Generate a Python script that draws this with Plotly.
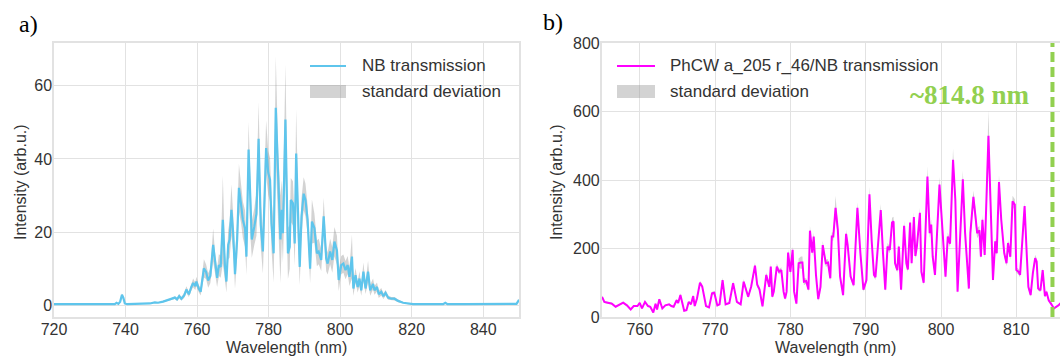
import plotly.graph_objects as go

# ---------------- data: panel a) NB transmission ----------------
nb_wl = [720, 725, 730, 735, 737.0, 737.5, 738.0, 738.5, 739.0, 739.4, 739.8, 740.5, 743, 745,
         746.8, 748.2, 749.1, 750.5, 751.9, 752.8, 753.8, 754.4, 755.0, 755.6, 756.4, 757.0,
         757.7, 758.4, 758.9, 759.5, 759.8, 760.5, 761.0, 761.9, 762.5, 763.1, 763.7, 764.5,
         765.1, 765.6, 766.1, 766.6, 767.2, 767.8, 768.2, 768.7, 769.1, 769.6, 770.1, 770.6,
         771.2, 771.7, 772.3, 772.8, 773.4, 773.8, 774.4, 774.9, 775.3, 776.0, 776.6, 777.2,
         777.8, 778.4, 779.3, 779.9, 780.4, 780.8, 781.4, 782.0, 782.7, 783.3, 783.7, 784.0,
         784.7, 785.4, 785.9, 786.2, 786.8, 787.3, 787.7, 788.3, 788.7, 789.2, 789.8, 790.3,
         790.9, 791.6, 792.1, 792.8, 793.5, 794.0, 794.7, 795.4, 796.1, 796.5, 797.2, 797.8,
         798.4, 799.1, 799.6, 800.3, 800.9, 801.5, 802.1, 802.6, 803.3, 803.7, 804.3, 804.9,
         805.4, 805.9, 806.5, 807.1, 807.8, 808.4, 809.2, 809.6, 810.3, 810.8, 811.5, 812.1,
         812.7, 813.4, 814.3, 815.2, 816.2, 817.6, 819.0, 820.4, 825, 828.8, 829.4, 830.0,
         835, 840, 845, 849.3, 850]
nb_int = [0.3, 0.3, 0.3, 0.3, 0.3, 0.7, 0.4, 1.0, 2.9, 2.0, 0.5, 0.3, 0.3, 0.4,
          0.5, 0.8, 0.7, 1.0, 1.4, 1.6, 2.1, 1.6, 2.5, 1.8, 2.7, 4.3,
          3.0, 5.0, 6.1, 5.2, 6.5, 4.5, 3.7, 10.1, 9.2, 6.8, 8.0, 16.5,
          10.5, 7.5, 11.0, 10.5, 23.4, 10.5, 6.5, 16.5, 18.0, 26.1, 19.7, 8.5,
          18.0, 32.1, 27.5, 23.4, 21.0, 13.3, 42.6, 25.0, 18.0, 21.5, 25.0, 45.5,
          22.0, 14.7, 43.0, 36.2, 34.3, 22.4, 14.2, 54.0, 31.6, 18.0, 26.1, 19.7,
          50.8, 14.2, 16.0, 28.8, 27.9, 16.9, 41.5, 21.5, 10.5, 24.3, 30.5, 28.8,
          23.4, 10.0, 22.9, 21.1, 14.2, 14.7, 12.4, 24.3, 12.8, 11.4, 14.7, 12.4,
          17.4, 15.0, 6.9, 11.0, 11.4, 9.6, 11.0, 7.8, 13.3, 4.6, 8.2, 5.0,
          7.3, 4.1, 9.2, 4.6, 9.2, 4.1, 5.8, 4.1, 5.0, 3.0, 3.7, 2.5,
          3.4, 2.1, 1.8, 1.8, 1.2, 0.7, 0.4, 0.3, 0.3, 0.3, 0.7, 0.3,
          0.3, 0.3, 0.3, 0.4, 1.5]
nb_std = [0.05, 0.05, 0.05, 0.05, 0.05, 0.1, 0.1, 0.2, 0.3, 0.3, 0.1, 0.05, 0.05, 0.05,
          0.1, 0.1, 0.1, 0.2, 0.3, 0.3, 0.4, 0.4, 0.6, 0.5, 0.7, 0.9,
          0.7, 1.0, 1.2, 1.0, 1.3, 1.0, 1.0, 2.5, 2.0, 2.0, 2.0, 4.5,
          3.0, 2.5, 3.0, 3.0, 12.0, 4.0, 3.0, 4.0, 5.0, 7.0, 5.0, 4.0,
          5.0, 6.5, 5.0, 5.0, 5.0, 5.0, 7.5, 6.0, 5.0, 5.0, 6.0, 10.0,
          6.0, 6.0, 7.5, 6.0, 6.0, 7.0, 8.0, 14.0, 10.0, 12.0, 8.0, 8.0,
          15.0, 7.0, 6.0, 6.0, 6.0, 6.0, 12.0, 6.0, 5.0, 5.0, 4.5, 4.5,
          4.0, 4.0, 6.0, 4.0, 3.5, 3.5, 3.0, 5.0, 3.5, 3.0, 3.5, 3.5,
          4.0, 4.0, 3.0, 2.5, 2.5, 2.5, 2.5, 2.5, 6.0, 2.0, 2.0, 1.5,
          2.0, 1.5, 2.5, 1.5, 3.0, 1.5, 1.5, 1.2, 1.2, 1.0, 1.0, 0.8,
          0.8, 0.6, 0.5, 0.5, 0.4, 0.2, 0.1, 0.05, 0.05, 0.05, 0.1, 0.05,
          0.05, 0.05, 0.05, 0.05, 0.2]

# ---------------- data: panel b) PhCW / NB transmission ----------------
ph_wl = [755.0, 755.3, 755.9, 756.3, 756.8, 757.2, 757.8, 758.3, 758.8, 759.2, 759.7, 760.0,
         760.3, 760.7, 761.1, 761.4, 761.8, 762.1, 762.3, 762.6, 763.0, 763.4, 763.9, 764.2,
         764.5, 764.9, 765.1, 765.4, 765.9, 766.2, 766.5, 766.8, 767.1, 767.3, 767.6, 768.0,
         768.3, 768.8, 769.2, 769.6, 769.9, 770.3, 770.6, 771.0, 771.4, 771.9, 772.4, 772.9,
         773.4, 773.8, 774.1, 774.4, 774.8, 775.3, 775.6, 775.9, 776.3, 776.8, 777.2, 777.4,
         777.6, 777.8, 778.2, 778.5, 778.8, 779.1, 779.3, 779.5, 779.7, 780.0, 780.3, 780.5,
         780.8, 781.1, 781.4, 781.6, 781.8, 782.1, 782.4, 782.6, 782.9, 783.1, 783.4, 783.7,
         784.0, 784.3, 784.7, 785.0, 785.3, 785.5, 785.7, 786.0, 786.3, 786.6, 787.0, 787.4,
         787.6, 788.0, 788.4, 788.9, 789.3, 789.7, 790.1, 790.5, 790.8, 791.1, 791.3, 791.6,
         792.0, 792.3, 792.6, 792.9, 793.2, 793.5, 793.7, 793.9, 794.2, 794.4, 794.7, 795.1,
         795.4, 795.6, 795.9, 796.1, 796.4, 796.6, 796.8, 797.2, 797.4, 797.7, 798.2, 798.5,
         798.7, 798.9, 799.2, 799.8, 800.2, 800.6, 800.9, 801.2, 801.6, 801.9, 802.2, 802.6,
         802.9, 803.2, 803.7, 803.9, 804.3, 804.6, 804.8, 805.1, 805.3, 805.5, 805.8, 806.3,
         806.7, 806.9, 807.2, 807.4, 807.7, 808.0, 808.4, 808.7, 808.9, 809.2, 809.5, 809.8,
         810.0, 810.3, 810.5, 811.1, 811.4, 811.6, 811.9, 812.2, 812.5, 812.7, 812.9, 813.2,
         813.5, 813.8, 814.0, 814.3, 814.6, 815.0, 815.6, 815.8, 816.2]
ph_int = [59, 44, 41, 39, 30, 34, 42, 34, 22, 32, 32, 41,
          25, 44, 32, 30, 13, 39, 22, 52, 25, 34, 37, 32,
          30, 49, 41, 64, 18, 20, 44, 37, 61, 32, 54, 100,
          89, 32, 28, 69, 71, 34, 37, 108, 37, 41, 99, 44,
          37, 103, 84, 59, 89, 150, 94, 81, 31, 123, 88, 147,
          59, 74, 147, 132, 137, 74, 54, 74, 188, 132, 196, 74,
          39, 157, 159, 159, 103, 105, 80, 252, 188, 235, 123, 52,
          88, 210, 157, 159, 113, 235, 235, 319, 255, 118, 64, 243,
          211, 118, 93, 319, 186, 80, 108, 358, 221, 123, 116, 196,
          312, 186, 80, 206, 196, 276, 279, 157, 137, 206, 80, 266,
          157, 139, 276, 157, 292, 178, 206, 304, 132, 100, 410, 245,
          270, 176, 123, 387, 255, 118, 235, 214, 459, 343, 74, 275,
          402, 245, 83, 245, 351, 289, 245, 253, 176, 284, 181, 529,
          255, 108, 221, 186, 394, 284, 186, 157, 216, 176, 338, 328,
          137, 132, 123, 324, 176, 88, 64, 129, 172, 162, 83, 78,
          137, 61, 74, 49, 39, 25, 34, 39, 45]
ph_std = [4, 3, 3, 3, 2, 2, 3, 2, 2, 2, 2, 3,
          2, 3, 2, 2, 2, 3, 2, 3, 2, 2, 2, 2,
          2, 4, 3, 5, 2, 2, 3, 3, 4, 3, 4, 6,
          5, 3, 3, 5, 5, 3, 3, 7, 3, 3, 6, 3,
          3, 7, 6, 5, 6, 9, 7, 6, 4, 8, 6, 9,
          5, 5, 9, 8, 8, 5, 5, 5, 10, 8, 10, 6,
          4, 14, 18, 18, 10, 8, 6, 14, 10, 12, 8, 5,
          6, 12, 10, 10, 8, 12, 12, 35, 15, 8, 5, 12,
          10, 8, 6, 16, 10, 6, 7, 22, 12, 8, 8, 10,
          18, 10, 6, 10, 10, 14, 14, 9, 8, 10, 6, 14,
          9, 8, 14, 9, 14, 9, 10, 15, 8, 7, 30, 14,
          15, 9, 8, 22, 14, 8, 12, 11, 32, 18, 6, 14,
          25, 14, 6, 14, 18, 25, 15, 13, 9, 14, 9, 75,
          14, 7, 11, 9, 20, 14, 10, 9, 11, 9, 16, 16,
          8, 8, 8, 12, 9, 6, 5, 8, 10, 9, 6, 5,
          7, 5, 5, 4, 3, 3, 3, 3, 3]

marker_wl = 814.8
marker_label = "~814.8 nm"

# ---------------- styles ----------------
W, H = 1060, 357
MT, MB = 43, 40
PH = H - MT - MB
BLUE = "#5ec5ec"
PINK = "#ff00ff"
BAND = "rgba(150,150,150,0.42)"
GREEN = "#92d050"
GRID = "#e2e2e2"
TXT = "#333333"
SANS = "Liberation Sans, Arial, sans-serif"
SERIF = "Liberation Serif, Times New Roman, serif"


def px_x(p):
    return p / W


def px_y(p):
    return (H - MB - p) / PH


fig = go.Figure()

# panel a
nb_lo = [v - s for v, s in zip(nb_int, nb_std)]
nb_hi = [v + s for v, s in zip(nb_int, nb_std)]
fig.add_trace(go.Scatter(x=nb_wl, y=nb_lo, mode="lines", line=dict(width=0),
                         showlegend=False, hoverinfo="skip", xaxis="x", yaxis="y"))
fig.add_trace(go.Scatter(x=nb_wl, y=nb_hi, mode="lines", line=dict(width=0),
                         fill="tonexty", fillcolor=BAND, name="standard deviation",
                         showlegend=False, xaxis="x", yaxis="y"))
fig.add_trace(go.Scatter(x=nb_wl, y=nb_int, mode="lines", line=dict(color=BLUE, width=2.2),
                         name="NB transmission", showlegend=False, xaxis="x", yaxis="y"))

# panel b
ph_lo = [v - s for v, s in zip(ph_int, ph_std)]
ph_hi = [v + s for v, s in zip(ph_int, ph_std)]
fig.add_trace(go.Scatter(x=ph_wl, y=ph_lo, mode="lines", line=dict(width=0),
                         showlegend=False, hoverinfo="skip", xaxis="x2", yaxis="y2"))
fig.add_trace(go.Scatter(x=ph_wl, y=ph_hi, mode="lines", line=dict(width=0),
                         fill="tonexty", fillcolor=BAND, name="standard deviation",
                         showlegend=False, xaxis="x2", yaxis="y2"))
fig.add_trace(go.Scatter(x=ph_wl, y=ph_int, mode="lines", line=dict(color=PINK, width=2),
                         name="PhCW a_205 r_46/NB transmission", showlegend=False,
                         xaxis="x2", yaxis="y2"))

axis_common = dict(showgrid=True, gridcolor=GRID, gridwidth=1, zeroline=False,
                   showline=True, linecolor=GRID, linewidth=1.5, mirror=True,
                   automargin=False, ticks="",
                   tickfont=dict(family=SANS, size=16, color=TXT))

fig.update_layout(
    width=W, height=H,
    margin=dict(l=0, r=0, t=MT, b=MB, pad=0, autoexpand=False),
    paper_bgcolor="white", plot_bgcolor="white",
    showlegend=False,
    xaxis=dict(domain=[px_x(54), px_x(519)], range=[720, 850], ticklabelstandoff=-3,
               tickvals=[720, 740, 760, 780, 800, 820, 840], anchor="y", **axis_common),
    yaxis=dict(domain=[0, 1], range=[-3.2, 71.7], tickvals=[0, 20, 40, 60],
               ticklabelstandoff=-3, anchor="x", **axis_common),
    xaxis2=dict(domain=[px_x(601.7), 1.0], range=[754.95, 815.8], ticklabelstandoff=-3,
                tickvals=[760, 770, 780, 790, 800, 810], anchor="y2", **axis_common),
    yaxis2=dict(domain=[0, 1], range=[0, 800], tickvals=[0, 200, 400, 600, 800],
                ticklabelstandoff=-3, anchor="x2", **axis_common),
)

shapes = []
annotations = []

# dashed marker line
shapes.append(dict(type="line", xref="x2", yref="y2 domain", x0=marker_wl, x1=marker_wl,
                   y0=0, y1=1, line=dict(color=GREEN, width=4, dash="10px,5px")))
annotations.append(dict(text=f"<b>{marker_label}</b>", xref="paper", yref="paper",
                        x=px_x(970), y=px_y(95), showarrow=False, xanchor="center",
                        yanchor="middle", font=dict(family=SERIF, size=27, color=GREEN)))

# manual legends
for (x0, x1, tx, col, label) in [(310, 346, 360, BLUE, "NB transmission"),
                                  (617, 655, 668, PINK, "PhCW a_205 r_46/NB transmission")]:
    shapes.append(dict(type="line", xref="paper", yref="paper", x0=px_x(x0), x1=px_x(x1),
                       y0=px_y(66), y1=px_y(66), line=dict(color=col, width=2)))
    shapes.append(dict(type="rect", xref="paper", yref="paper", x0=px_x(x0), x1=px_x(x1),
                       y0=px_y(98), y1=px_y(85), fillcolor=BAND, line=dict(width=0)))
    annotations.append(dict(text=label, xref="paper", yref="paper", x=px_x(tx), y=px_y(66),
                            xanchor="left", yanchor="middle", showarrow=False,
                            font=dict(family=SANS, size=17, color=TXT)))
    annotations.append(dict(text="standard deviation", xref="paper", yref="paper",
                            x=px_x(tx), y=px_y(91), xanchor="left", yanchor="middle",
                            showarrow=False, font=dict(family=SANS, size=17, color=TXT)))

# axis titles
for xc in (286, 835):
    annotations.append(dict(text="Wavelength (nm)", xref="paper", yref="paper",
                            x=px_x(xc), y=px_y(347.5), xanchor="center", yanchor="middle",
                            showarrow=False, font=dict(family=SANS, size=16, color=TXT)))
for xc in (20, 556):
    annotations.append(dict(text="Intensity (arb.u.)", xref="paper", yref="paper",
                            x=px_x(xc), y=px_y(182), xanchor="center", yanchor="middle",
                            textangle=-90, showarrow=False,
                            font=dict(family=SANS, size=16, color=TXT)))

# panel labels
annotations.append(dict(text="a)", xref="paper", yref="paper", x=px_x(28), y=px_y(24),
                        xanchor="center", yanchor="middle", showarrow=False,
                        font=dict(family=SERIF, size=24, color="black")))
annotations.append(dict(text="b)", xref="paper", yref="paper", x=px_x(553), y=px_y(22),
                        xanchor="center", yanchor="middle", showarrow=False,
                        font=dict(family=SERIF, size=24, color="black")))

fig.update_layout(shapes=shapes, annotations=annotations)
fig.write_html("out.html")
